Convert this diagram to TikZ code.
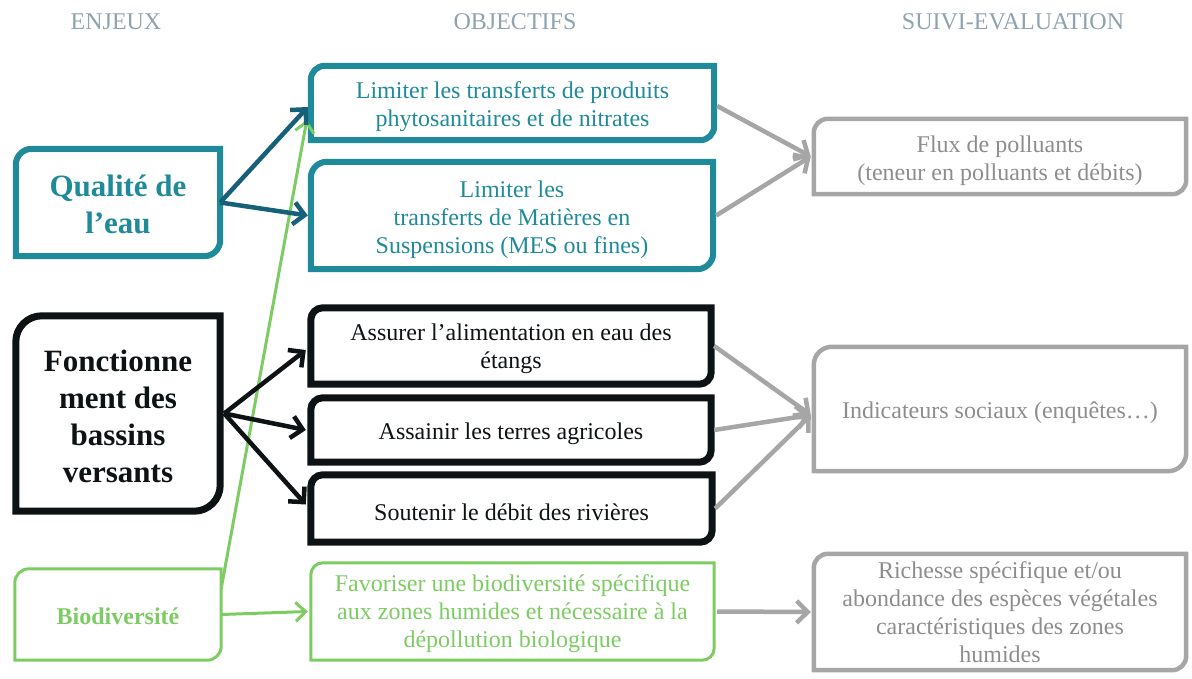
\documentclass[tikz,border=0pt]{standalone}
\usepackage{fontspec}
\setmainfont{Liberation Serif}
\usetikzlibrary{arrows.meta}
\definecolor{teal1}{HTML}{1F8A99}
\definecolor{teal2}{HTML}{17607A}
\definecolor{blk}{HTML}{0D1214}
\definecolor{grn}{HTML}{7CCC63}
\definecolor{gry}{HTML}{A6A6A6}
\definecolor{hdr}{HTML}{8EA3AE}
\colorlet{grytext}{gry!85!black}
\newcommand\diagframe[3]{%
  \draw[#1] ([yshift=-#3pt]#2.north west)
    .. controls ([yshift=-0.45*#3pt]#2.north west) and ([xshift=0.45*#3pt]#2.north west) .. ([xshift=#3pt]#2.north west)
    -- (#2.north east) -- ([yshift=#3pt]#2.south east)
    .. controls ([yshift=0.45*#3pt]#2.south east) and ([xshift=-0.45*#3pt]#2.south east) .. ([xshift=-#3pt]#2.south east)
    -- (#2.south west) -- cycle;}
\tikzset{
  boxbase/.style={draw=none, inner sep=0pt},
  lt/.style={align=center, inner sep=0pt, font=\fontsize{24}{28}\selectfont},
  ltb/.style={align=center, inner sep=0pt, font=\bfseries\fontsize{31}{37}\selectfont},
  hdrtext/.style={text=hdr, font=\fontsize{24}{28}\selectfont},
  tealline/.style={draw=teal1, line width=6pt},
  blkline/.style={draw=blk, line width=7pt},
  grnline/.style={draw=grn, line width=3pt},
  gryline/.style={draw=gry, line width=4.5pt},
  arr/.style={line width=4.5pt, -{Straight Barb[length=11pt, width=22pt, line width=4.5pt]}},
  tealarr/.style={arr, draw=teal2},
  blkarr/.style={arr, draw=blk},
  gryarr/.style={arr, draw=gry},
  grnarr/.style={line width=3pt, draw=grn, -{Straight Barb[length=10pt, width=19pt, line width=3pt]}},
}
\begin{document}
\begin{tikzpicture}[x=1pt,y=-1pt]
\useasboundingbox (0,0) rectangle (1192,679);
% headings
\node[hdrtext] (h1) at (116,22) {ENJEUX};
\node[hdrtext] (h2) at (515,22) {OBJECTIFS};
\node[hdrtext] (h3) at (1013,22) {SUIVI-EVALUATION};
% enjeux
\node[boxbase, minimum width=204pt, minimum height=107pt,
  label={[ltb, text=teal1, yshift=-2pt]center:{Qualité de\\l’eau}}] (Q) at (118,202.5) {};
\node[boxbase, minimum width=204pt, minimum height=195pt,
  label={[ltb, text=blk, yshift=-3pt]center:{Fonctionne\\ment des\\bassins\\versants}}] (F) at (118,413.5) {};
\node[boxbase, minimum width=206pt, minimum height=91pt,
  label={[lt, font=\bfseries\fontsize{24}{28}\selectfont, text=grn, yshift=-2pt]center:{Biodiversité}}] (B) at (118,614.5) {};
% objectifs
\node[boxbase, minimum width=403pt, minimum height=74pt,
  label={[lt, text=teal1, yshift=-4pt]center:{Limiter les transferts de produits\\phytosanitaires et de nitrates}}] (L1) at (512.5,103) {};
\node[boxbase, minimum width=402pt, minimum height=107pt,
  label={[lt, text=teal1, yshift=-4pt]center:{Limiter les\\transferts de Matières en\\Suspensions (MES ou fines)}}] (L2) at (512,215.5) {};
\node[boxbase, minimum width=400pt, minimum height=76pt,
  label={[lt, text=blk, yshift=-3pt]center:{Assurer l’alimentation en eau des\\étangs}}] (A1) at (511,346) {};
\node[boxbase, minimum width=400pt, minimum height=64pt,
  label={[lt, text=blk, yshift=-4pt]center:{Assainir les terres agricoles}}] (A2) at (511,430) {};
\node[boxbase, minimum width=401pt, minimum height=67pt,
  label={[lt, text=blk, yshift=-4pt]center:{Soutenir le débit des rivières}}] (A3) at (511.5,508.5) {};
\node[boxbase, minimum width=403pt, minimum height=97pt,
  label={[lt, text=grn, yshift=-2pt]center:{Favoriser une biodiversité spécifique\\aux zones humides et nécessaire à la\\dépollution biologique}}] (FV) at (512.5,611.5) {};
% suivi
\node[boxbase, minimum width=372pt, minimum height=75pt,
  label={[lt, text=grytext, yshift=-4pt]center:{Flux de polluants\\(teneur en polluants et débits)}}] (FL) at (1000,156.5) {};
\node[boxbase, minimum width=372pt, minimum height=124pt,
  label={[lt, text=grytext, yshift=-4pt]center:{Indicateurs sociaux (enquêtes…)}}] (IN) at (1000,409) {};
\node[boxbase, minimum width=372pt, minimum height=116pt,
  label={[lt, text=grytext, yshift=0pt]center:{Richesse spécifique et/ou\\abondance des espèces végétales\\caractéristiques des zones\\humides}}] (RI) at (1000,612) {};
% frames
\diagframe{tealline}{Q}{16}
\diagframe{blkline}{F}{26}
\diagframe{grnline}{B}{14}
\diagframe{tealline}{L1}{14}
\diagframe{tealline}{L2}{16}
\diagframe{blkline}{A1}{12}
\diagframe{blkline}{A2}{12}
\diagframe{blkline}{A3}{12}
\diagframe{grnline}{FV}{12}
\diagframe{gryline}{FL}{14}
\diagframe{gryline}{IN}{18}
\diagframe{gryline}{RI}{14}
% arrows
\draw[grnarr] ([yshift=26pt]B.east) -- ([yshift=-17pt,xshift=-4pt]L1.west);
\draw[grnarr] (B.east) -- ([xshift=-3pt]FV.west);
\draw[tealarr] (Q.east) -- ([yshift=-4pt,xshift=-3pt]L1.west);
\draw[tealarr] (Q.east) -- ([xshift=-3pt]L2.west);
\draw[blkarr] ([xshift=4pt]F.east) -- ([yshift=-4pt,xshift=-5pt]A1.west);
\draw[blkarr] ([xshift=4pt]F.east) -- ([xshift=-5pt]A2.west);
\draw[blkarr] ([xshift=4pt]F.east) -- ([yshift=4pt,xshift=-5pt]A3.west);
\draw[gryarr] ([xshift=3pt,yshift=-3pt]L1.east) -- ([xshift=-3pt]FL.west);
\draw[gryarr] ([xshift=3pt]L2.east) -- ([xshift=-3pt]FL.west);
\draw[gryarr] ([xshift=3pt]A1.east) -- ([xshift=-3pt,yshift=-6pt]IN.west);
\draw[gryarr] ([xshift=3pt]A2.east) -- ([xshift=-3pt,yshift=-6pt]IN.west);
\draw[gryarr] ([xshift=3pt]A3.east) -- ([xshift=-3pt,yshift=-6pt]IN.west);
\draw[gryarr] ([xshift=3pt]FV.east) -- ([xshift=-3pt]RI.west);
\end{tikzpicture}
\end{document}
